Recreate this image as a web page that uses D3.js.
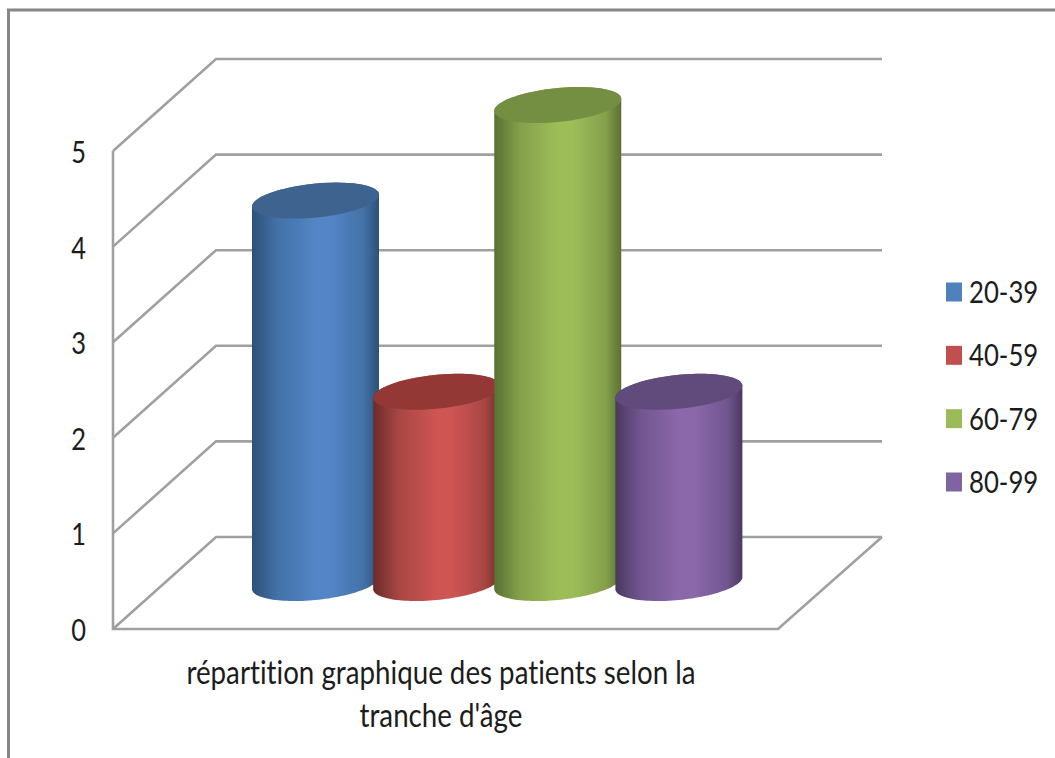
<!DOCTYPE html>
<html>
<head>
<meta charset="utf-8">
<script src="https://cdn.jsdelivr.net/npm/d3@7"></script>
<style>
  html, body { margin: 0; padding: 0; background: #fff; }
  svg { display: block; }
  text { font-family: Lato, "Open Sans", sans-serif; fill: #1c1c1c; font-variant-ligatures: none; }
</style>
</head>
<body>
<div id="chart"></div>
<script>
const ageGroups = ["20-39", "40-59", "60-79", "80-99"];
const patientCounts = [4, 2, 5, 2];
const axisTicks = [0, 1, 2, 3, 4, 5];
const categoryLines = ["répartition graphique des patients selon la", "tranche d'âge"];
const midColors = ["#5485c6", "#cf5553", "#9dbd59", "#8b68aa"];
const edgeColors = ["#2e5078", "#6a2c2b", "#5a7034", "#4a3960"];
const shoulderColors = ["#4372a8", "#a84644", "#84a04a", "#715690"];
const capColors = ["#3e638f", "#943836", "#758f42", "#614b7c"];
const legendColors = ["#4f81bd", "#c0504d", "#9bbb59", "#8064a2"];

const width = 1055, height = 758;
const gridColor = "#a0a0a0";

// Oblique projection of the plot box: front plane plus a depth offset.
const depthX = 103, depthY = -92;
const plot = { left: 113, right: 778, bottom: 629, top: 151 };

const svg = d3.select("#chart").append("svg")
  .attr("width", width).attr("height", height);

// Outer chart frame, open on the right and at the bottom.
svg.append("path")
  .attr("d", d3.line()([[8.5, height], [8.5, 10], [width, 10]]))
  .attr("fill", "none").attr("stroke", "#858585").attr("stroke-width", 3);

const y = d3.scaleLinear().domain([0, 5]).range([plot.bottom, plot.top]);
const x = d3.scaleBand().domain(ageGroups).range([252, 736.5]).paddingInner(0).paddingOuter(0);
const cylinderWidth = 127;

// Walls and floor.
const walls = svg.append("g").attr("fill", "none").attr("stroke", gridColor).attr("stroke-width", 2.6);
const wallLine = d3.line();
axisTicks.forEach(t => {
  walls.append("path").attr("d", wallLine([
    [plot.left, y(t)],
    [plot.left + depthX, y(t) + depthY],
    [plot.right + depthX + 1, y(t) + depthY]
  ]));
});
walls.append("path").attr("d", wallLine([
  [plot.left, y(5)], [plot.left, y(0)], [plot.right, y(0)], [plot.right + depthX + 1, y(0) + depthY]
]));

// Horizontal shading for each cylinder body.
const defs = svg.append("defs");
ageGroups.forEach((g, i) => {
  const grad = defs.append("linearGradient").attr("id", "body" + i)
    .attr("x1", 0).attr("x2", 1).attr("y1", 0).attr("y2", 0);
  [[0, edgeColors[i]], [0.2, shoulderColors[i]], [0.5, midColors[i]], [0.62, midColors[i]],
   [0.88, shoulderColors[i]], [1, edgeColors[i]]].forEach(([o, c]) => {
    grad.append("stop").attr("offset", o).attr("stop-color", c);
  });
});

// A cylinder cross-section is a sheared ellipse sitting at mid depth.
const capHalfHeight = 17, capShear = 6;
function rimPoint(cx, cy, t) {
  const a = cylinderWidth / 2;
  return [cx + a * Math.cos(t), cy + capHalfHeight * Math.sin(t) - capShear * Math.cos(t)];
}
function rim(cx, cy, from, to) {
  return d3.range(0, 61).map(k => rimPoint(cx, cy, from + (to - from) * k / 60));
}

const bars = svg.append("g").selectAll("g").data(ageGroups).join("g");
bars.each(function (g, i) {
  const cx = x(g) + cylinderWidth / 2;
  const topY = y(patientCounts[i]) + depthY / 2;
  const baseY = y(0) + depthY / 2;
  const sel = d3.select(this);
  const outline = [
    ...rim(cx, topY, Math.PI, 2 * Math.PI),
    ...rim(cx, baseY, 0, Math.PI)
  ];
  sel.append("path")
    .attr("d", d3.line()(outline) + "Z")
    .attr("fill", `url(#body${i})`);
  sel.append("path")
    .attr("d", d3.line()(rim(cx, topY, 0, 2 * Math.PI)) + "Z")
    .attr("fill", capColors[i]);
});

// Narrow the Lato glyphs to the condensed look of the labels.
function condense(sel, factor) {
  sel.each(function () {
    const len = this.getComputedTextLength();
    d3.select(this).attr("textLength", len * factor).attr("lengthAdjust", "spacingAndGlyphs");
  });
}

// Value axis labels.
const axis = svg.append("g")
  .attr("transform", `translate(${plot.left - 27},1.5)`)
  .call(d3.axisLeft(y).tickValues(axisTicks).tickSize(0).tickPadding(0).tickFormat(d3.format("d")));
axis.select(".domain").remove();
axis.selectAll("text")
  .style("font-family", "Lato, sans-serif")
  .style("font-size", "31px")
  .style("fill", "#1c1c1c")
  .call(condense, 0.82);

// Category label on two lines.
svg.append("g").selectAll("text").data(categoryLines).join("text")
  .attr("x", 441)
  .attr("y", (d, i) => 684 + i * 43)
  .attr("text-anchor", "middle")
  .style("font-size", "33px")
  .text(d => d)
  .call(condense, 0.84);

// Legend.
const legendY = d3.scalePoint().domain(ageGroups).range([292, 482]);
const legend = svg.append("g").selectAll("g").data(ageGroups).join("g")
  .attr("transform", d => `translate(0,${legendY(d)})`);
legend.append("rect")
  .attr("x", 946).attr("y", -9.5).attr("width", 16).attr("height", 19)
  .attr("fill", (d, i) => legendColors[i]);
legend.append("text")
  .attr("x", 969).attr("y", 11)
  .style("font-size", "31px")
  .text(d => d)
  .call(condense, 0.83);
</script>
</body>
</html>
